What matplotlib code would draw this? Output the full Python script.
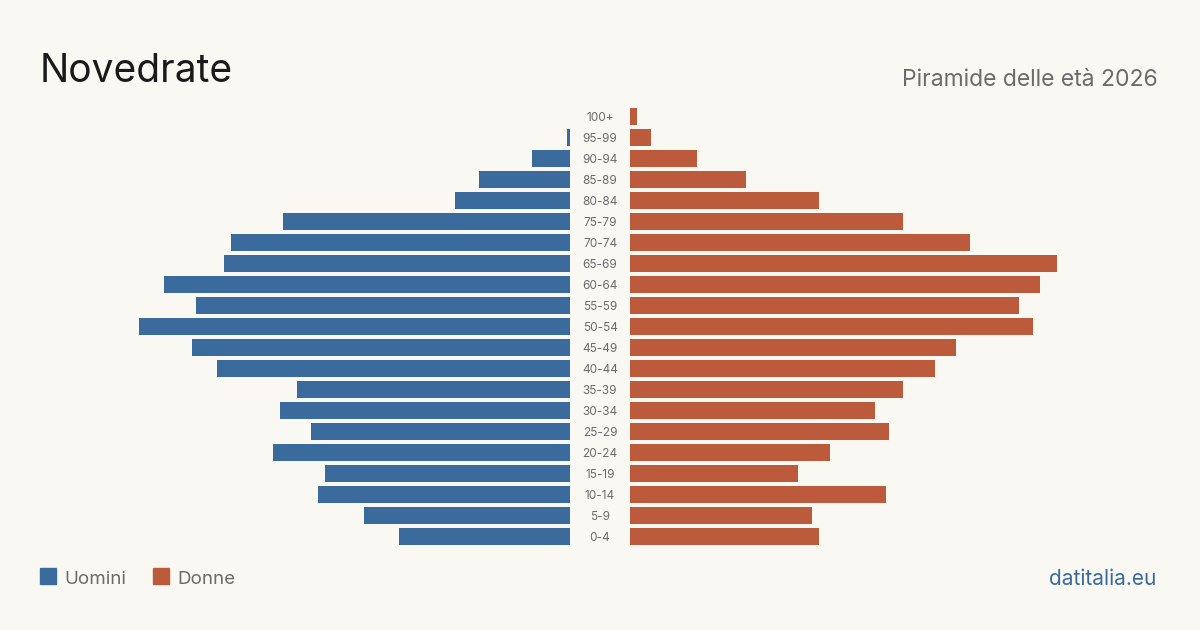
import matplotlib.pyplot as plt
import numpy as np

# fasce d'età dal basso verso l'alto
eta = ["0-4", "5-9", "10-14", "15-19", "20-24", "25-29", "30-34", "35-39",
       "40-44", "45-49", "50-54", "55-59", "60-64", "65-69", "70-74", "75-79",
       "80-84", "85-89", "90-94", "95-99", "100+"]
uomini = [49, 59, 72, 70, 85, 74, 83, 78, 101, 108, 123, 107, 116, 99, 97, 82,
          33, 26, 11, 1, 0]
donne = [54, 52, 73, 48, 57, 74, 70, 78, 87, 93, 115, 111, 117, 122, 97, 78,
         54, 33, 19, 6, 2]

sfondo = "#f9f8f3"
blu = "#3b6b9c"
rosso = "#bb5b3b"
grigio = "#6b6b6b"

plt.rcParams['font.family'] = ['Inter', 'DejaVu Sans']

fig = plt.figure(figsize=(12, 6.3), dpi=100, facecolor=sfondo)
ax = fig.add_axes([0, 0.1325, 1, 0.7])
ax.set_facecolor(sfondo)

px = 3.5  # pixel per persona
meta = 600 / px
gap = 30 / px
y = np.arange(len(eta))

ax.barh(y, [-u for u in uomini], left=-gap, height=0.81, color=blu)
ax.barh(y, donne, left=gap, height=0.81, color=rosso)
for i, e in enumerate(eta):
    ax.text(0, i, e, ha="center", va="center_baseline", fontsize=8.5, color=grigio)

ax.set_xlim(-meta, meta)
ax.set_ylim(-0.5, len(eta) - 0.5)
ax.axis("off")

fig.text(40 / 1200, 1 - 67 / 630, "Novedrate", fontsize=28, color="#1a1a1a",
         ha="left", va="center_baseline")
fig.text(1158 / 1200, 1 - 77 / 630, "Piramide delle età 2026", fontsize=16.5,
         color=grigio, ha="right", va="center_baseline")

# legenda
fig.patches.append(plt.Rectangle((40 / 1200, 1 - 584 / 630), 16 / 1200, 16 / 630,
                                 transform=fig.transFigure, color=blu))
fig.text(64 / 1200, 1 - 577 / 630, "Uomini", fontsize=13.5, color=grigio,
         ha="left", va="center_baseline")
fig.patches.append(plt.Rectangle((153 / 1200, 1 - 584 / 630), 16 / 1200, 16 / 630,
                                 transform=fig.transFigure, color=rosso))
fig.text(177 / 1200, 1 - 577 / 630, "Donne", fontsize=13.5, color=grigio,
         ha="left", va="center_baseline")
fig.text(1156 / 1200, 1 - 577 / 630, "datitalia.eu", fontsize=15, color=blu,
         ha="right", va="center_baseline")

fig.savefig("out.png", dpi=100, facecolor=sfondo)
